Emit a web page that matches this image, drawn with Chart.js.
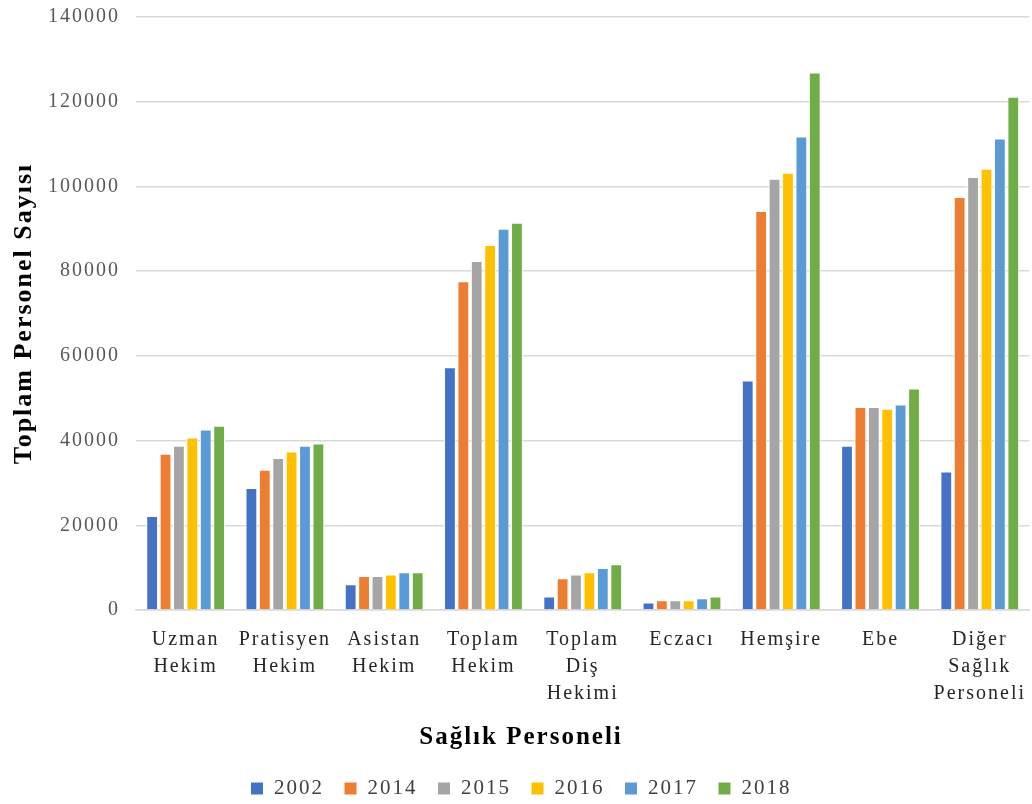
<!DOCTYPE html>
<html>
<head>
<meta charset="utf-8">
<script src="https://cdn.jsdelivr.net/npm/chart.js@4.4.1/dist/chart.umd.min.js"></script>
<style>
  html, body { margin: 0; padding: 0; background: #fff; overflow: hidden; }
  #wrap { width: 1042px; height: 804px; }
</style>
</head>
<body>
<div id="wrap"><canvas id="c"></canvas></div>
<script>
'use strict';
// Sağlık personeli sayıları 2002–2018 (Toplam Personel Sayısı)

const CATEGORIES = [
  ['Uzman', 'Hekim'], ['Pratisyen', 'Hekim'], ['Asistan', 'Hekim'], ['Toplam', 'Hekim'],
  ['Toplam', 'Diş', 'Hekimi'], 'Eczacı', 'Hemşire', 'Ebe', ['Diğer', 'Sağlık', 'Personeli'],
];
const YEARS = ['2002', '2014', '2015', '2016', '2017', '2018'];
const COLORS = ['#4472C4', '#ED7D31', '#A5A5A5', '#FFC000', '#5B9BD5', '#70AD47'];

const V2002 = [22200, 28800, 6100, 57300, 3200, 1800, 54200, 38800, 32700];
const V2014 = [36900, 33100, 8000, 77600, 7500, 2300, 94200, 47900, 97500];
const V2015 = [38800, 35900, 8000, 82400, 8400, 2300, 101800, 47900, 102200];
const V2016 = [40700, 37400, 8400, 86200, 8900, 2300, 103200, 47500, 104200];
const V2017 = [42600, 38800, 8900, 90000, 9900, 2800, 111800, 48500, 111300];
const V2018 = [43500, 39300, 8900, 91400, 10800, 3200, 126900, 52300, 121200];
const SERIES = [V2002, V2014, V2015, V2016, V2017, V2018];

const Y_MIN = 0, Y_MAX = 140000, Y_STEP = 20000;
const X_TITLE = 'Sağlık Personeli';
const Y_TITLE = 'Toplam Personel Sayısı';

const SERIF = '"Liberation Serif", "Times New Roman", serif';
const SPACING = '2px';

// espacement des lettres comme dans le graphique Word d'origine
const letterSpacing = {
  id: 'letterSpacing',
  beforeLayout(c) { c.ctx.letterSpacing = SPACING; },
  beforeDraw(c) { c.ctx.letterSpacing = SPACING; },
};

// titre de l'axe X centré sur toute la figure (pas seulement sur la zone de tracé)
const xTitle = {
  id: 'xTitle',
  afterDraw(c) {
    const ctx = c.ctx;
    ctx.save();
    ctx.letterSpacing = SPACING;
    ctx.font = `bold 25px ${SERIF}`;
    ctx.fillStyle = '#000';
    ctx.textAlign = 'center';
    ctx.textBaseline = 'middle';
    ctx.fillText(X_TITLE, c.width / 2, c.chartArea.bottom + 128);
    ctx.restore();
  },
};

new Chart(document.getElementById('c'), {
  type: 'bar',
  data: {
    labels: CATEGORIES,
    datasets: YEARS.map((y, i) => ({
      label: y, data: SERIES[i], backgroundColor: COLORS[i],
      borderColor: '#ffffff', borderWidth: 1,
      categoryPercentage: 0.81, barPercentage: 0.88,
    })),
  },
  options: {
    responsive: true, maintainAspectRatio: false, animation: false,
    layout: { padding: { top: 17, right: 0, bottom: -5, left: 0 } },
    plugins: {
      tooltip: { enabled: false },
      legend: {
        position: 'bottom',
        labels: { color: '#404040', font: { family: SERIF, size: 21 }, boxWidth: 13, boxHeight: 13, padding: 20 },
      },
    },
    scales: {
      x: {
        grid: { display: false, drawTicks: false },
        border: { display: true, color: '#d9d9d9', width: 1.5 },
        ticks: { color: '#262626', font: { family: SERIF, size: 20, lineHeight: '27px' }, padding: 16, maxRotation: 0, autoSkip: false },
        afterFit: s => { s.height = 148; },
      },
      y: {
        min: Y_MIN, max: Y_MAX,
        grid: { color: '#d9d9d9', lineWidth: 1.5, drawTicks: false },
        border: { display: false },
        ticks: { stepSize: Y_STEP, color: '#595959', font: { family: SERIF, size: 20 }, padding: 16, callback: v => String(v) },
        title: { display: true, text: Y_TITLE, color: '#000', font: { family: SERIF, size: 26, weight: 'bold' }, padding: { top: 9, bottom: 0 } },
        afterFit: s => { s.width = 136; s.paddingTop = 0; s.paddingBottom = 0; },
      },
    },
  },
  plugins: [letterSpacing, xTitle],
});
</script>
</body>
</html>
